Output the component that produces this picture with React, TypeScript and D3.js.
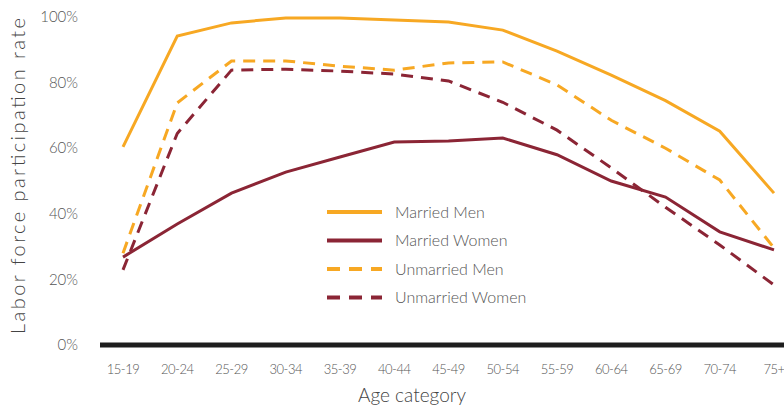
import { useEffect, useRef } from 'react'
import * as d3 from 'd3'

const ages = ['15-19', '20-24', '25-29', '30-34', '35-39', '40-44', '45-49', '50-54', '55-59', '60-64', '65-69', '70-74', '75+']
const marriedMen = [60.4, 94.2, 98.2, 99.7, 99.7, 99.1, 98.5, 96, 89.6, 82.3, 74.5, 65.2, 46.3]
const marriedWomen = [26.8, 36.9, 46.3, 52.7, 57.3, 61.9, 62.2, 63.1, 58, 50, 45.1, 34.5, 29]
const unmarriedMen = [28, 73.8, 86.6, 86.6, 85, 83.8, 86, 86.3, 79.3, 68.5, 60, 50.3, 29.6]
const unmarriedWomen = [22.9, 64.5, 83.8, 84.1, 83.5, 82.6, 80.5, 74, 65.5, 54, 42, 30.5, 18.3]
const yTicks = [0, 20, 40, 60, 80, 100]

const series = [
    { name: 'Married Men', values: marriedMen, color: '#F7A823', dash: null },
    { name: 'Married Women', values: marriedWomen, color: '#8B2535', dash: null },
    { name: 'Unmarried Men', values: unmarriedMen, color: '#F7A823', dash: '12,8' },
    { name: 'Unmarried Women', values: unmarriedWomen, color: '#8B2535', dash: '12,8' }
]

function App() {
    const ref = useRef<SVGSVGElement>(null)

    useEffect(() => {
        const svg = d3.select(ref.current)
        svg.selectAll('*').remove()
        const font = 'Lato, sans-serif'
        const textColor = '#555'

        const xScale = d3.scalePoint().domain(ages).range([123, 774])
        const yScale = d3.scaleLinear().domain([0, 100]).range([345, 17])

        // y tick labels
        svg.append('g')
            .selectAll('text')
            .data(yTicks)
            .join('text')
            .attr('x', 78)
            .attr('y', d => yScale(d))
            .attr('dy', '0.35em')
            .attr('text-anchor', 'end')
            .attr('font-family', font)
            .attr('font-weight', 300)
            .attr('font-size', 15)
            .attr('fill', textColor)
            .text(d => d + '%')

        // x tick labels
        svg.append('g')
            .selectAll('text')
            .data(ages)
            .join('text')
            .attr('x', d => xScale(d)!)
            .attr('y', 374)
            .attr('text-anchor', 'middle')
            .attr('font-family', font)
            .attr('font-weight', 300)
            .attr('font-size', 13)
            .attr('letter-spacing', -0.5)
            .attr('fill', textColor)
            .text(d => d)

        // axis titles
        svg.append('text')
            .attr('x', 412)
            .attr('y', 402)
            .attr('text-anchor', 'middle')
            .attr('font-family', font)
            .attr('font-weight', 300)
            .attr('font-size', 19)
            .attr('fill', '#444')
            .text('Age category')

        svg.append('text')
            .attr('transform', 'translate(25, 176) rotate(-90)')
            .attr('text-anchor', 'middle')
            .attr('font-family', font)
            .attr('font-weight', 300)
            .attr('font-size', 20)
            .attr('textLength', 316)
            .attr('lengthAdjust', 'spacing')
            .attr('fill', '#444')
            .text('Labor force participation rate')

        // baseline
        svg.append('line')
            .attr('x1', 100)
            .attr('x2', 784)
            .attr('y1', yScale(0))
            .attr('y2', yScale(0))
            .attr('stroke', '#1e1e1e')
            .attr('stroke-width', 5)

        const line = d3.line<number>()
            .x((_, i) => xScale(ages[i])!)
            .y(d => yScale(d))

        svg.append('g')
            .selectAll('path')
            .data(series)
            .join('path')
            .attr('d', d => line(d.values))
            .attr('fill', 'none')
            .attr('stroke', d => d.color)
            .attr('stroke-width', 3)
            .attr('stroke-dasharray', d => d.dash)

        // legend
        const legend = svg.append('g').attr('transform', 'translate(327, 212)')
        const items = legend.selectAll('g')
            .data(series)
            .join('g')
            .attr('transform', (_, i) => `translate(0, ${i * 28.5})`)
        items.append('line')
            .attr('x1', 0)
            .attr('x2', 55)
            .attr('stroke', d => d.color)
            .attr('stroke-width', 4)
            .attr('stroke-dasharray', d => d.dash ? '13,9' : null)
        items.append('text')
            .attr('x', 68)
            .attr('dy', '0.35em')
            .attr('font-family', font)
            .attr('font-weight', 300)
            .attr('font-size', 16)
            .attr('fill', textColor)
            .text(d => d.name)
    }, [])

    return (
        <svg
            ref={ref}
            width={784}
            height={408}
            style={{ position: 'absolute', left: 0, top: 0, background: '#fff' }}
        />
    )
}

export default App
